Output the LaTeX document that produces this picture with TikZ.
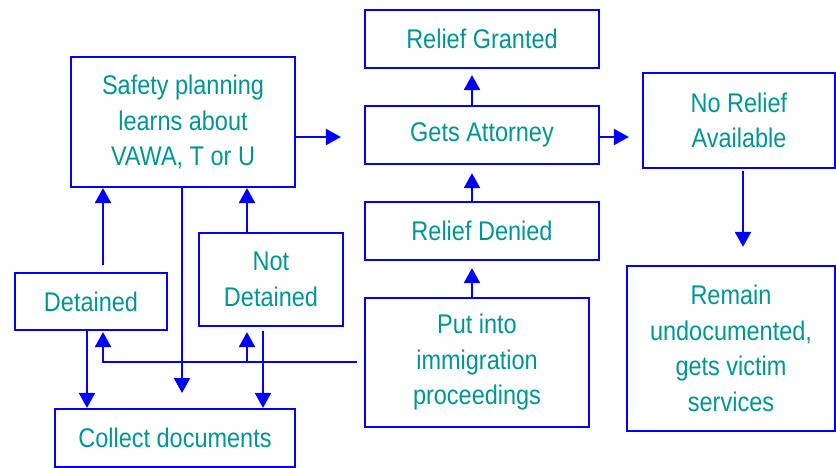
\documentclass[tikz,border=0pt]{standalone}
\usepackage{fontspec}
\setmainfont{Liberation Sans}[FakeStretch=0.87]
\usetikzlibrary{arrows.meta,calc}
\definecolor{boxblue}{RGB}{0,0,255}
\definecolor{labelteal}{RGB}{0,150,150}
\tikzset{
  box/.style={draw=boxblue, line width=2.2pt, rectangle, inner sep=0pt,
    text=labelteal, align=center,
    font=\fontsize{27}{35.5}\selectfont},
  arr/.style={draw=boxblue, line width=2.2pt,
    -{Triangle[width=16pt,length=15pt]}},
  plain/.style={draw=boxblue, line width=2.2pt}
}
\begin{document}
\begin{tikzpicture}[x=1pt,y=-1pt]
\useasboundingbox (0,0) rectangle (836,468);

% left column
\node[box, minimum width=224pt, minimum height=130pt] (safety) at (183,122)
  {Safety planning\\learns about\\VAWA, T or U};
\node[box, minimum width=152pt, minimum height=57pt] (detained) at (91,301.5) {Detained};
\node[box, minimum width=144pt, minimum height=93pt] (notdet) at (271,279.5) {Not\\Detained};
\node[box, minimum width=240pt, minimum height=58pt] (collect) at (175,438) {Collect documents};

% middle column
\node[box, minimum width=234pt, minimum height=58pt] (granted) at (482,39) {Relief Granted};
\node[box, minimum width=234pt, minimum height=58pt] (attorney) at (482,135) {Gets Attorney};
\node[box, minimum width=234pt, minimum height=58pt] (denied) at (482,231) {Relief Denied};
\node[box, minimum width=224pt, minimum height=129pt] (putinto) at (477,362.5)
  {Put into\\immigration\\proceedings};

% right column
\node[box, minimum width=192pt, minimum height=95pt] (norelief) at (739,120.5) {No Relief\\Available};
\node[box, minimum width=208pt, minimum height=165pt] (remain) at (731,348.5)
  {Remain\\undocumented,\\gets victim\\services};

% guide positions for connectors
\coordinate (xa) at (103,0);
\coordinate (xb) at (247,0);
\coordinate (xc) at (87,0);
\coordinate (xd) at (263,0);
\coordinate (xm) at (472,0);
\coordinate (xr) at (743,0);
\coordinate (ymid) at (0,137);
\coordinate (ylow) at (0,362);
\coordinate (docs) at (182,393);

% connectors into the safety planning box
\draw[arr, shorten <=7pt] (detained.north -| xa) -- (safety.south -| xa);
\draw[arr] (notdet.north -| xb) -- (safety.south -| xb);
\draw[arr] (safety.south -| docs) -- (docs);

% connectors down to collecting documents
\draw[arr] (detained.south -| xc) -- (collect.north -| xc);
\draw[arr, shorten <=4pt] (notdet.south -| xd) -- (collect.north -| xd);

% proceedings lead back to both custody boxes
\draw[plain, shorten <=7pt] (putinto.west |- ylow) -- (xb |- ylow);
\draw[arr] (xb |- ylow) -- (xa |- ylow) -- ([yshift=-1pt]detained.south -| xa);
\draw[arr, shorten >=5pt] (xb |- ylow) -- (notdet.south -| xb);

% central chain
\draw[arr, shorten >=23pt] (safety.east |- ymid) -- (attorney.west |- ymid);
\draw[arr, shorten >=13pt] (attorney.east |- ymid) -- (norelief.west |- ymid);
\draw[arr, shorten >=6pt] (attorney.north -| xm) -- (granted.south -| xm);
\draw[arr, shorten >=8pt] (denied.north -| xm) -- (attorney.south -| xm);
\draw[arr, shorten >=7pt] (putinto.north -| xm) -- (denied.south -| xm);
\draw[arr, shorten <=2pt, shorten >=18pt] (norelief.south -| xr) -- (remain.north -| xr);
\end{tikzpicture}
\end{document}
